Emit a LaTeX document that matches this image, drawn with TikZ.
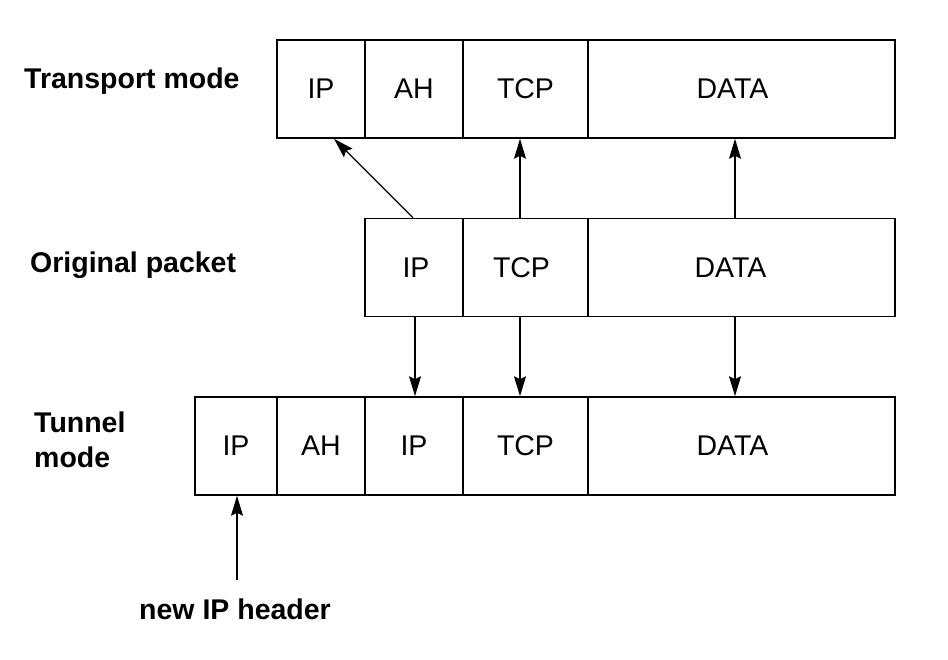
\documentclass[tikz,border=0pt]{standalone}
\usepackage{fontspec}
\setmainfont{Liberation Sans}
\usetikzlibrary{arrows.meta}
\begin{document}
\begin{tikzpicture}[x=1pt,y=-1pt,
  cell/.style={draw,line width=1.6pt,inner sep=0pt,minimum height=98pt,font=\fontsize{28.5}{30}\selectfont},
  lbl/.style={font=\bfseries\fontsize{28.5}{35}\selectfont,inner sep=0pt,align=left},
  arr/.style={line width=1.3pt,-{Stealth[length=20pt,width=12pt,inset=3pt]}}]
\useasboundingbox[fill=white] (0,0) rectangle (948,660);
% Transport mode
\node[cell,minimum width=88pt]  (t1) at (321,89) {IP};
\node[cell,minimum width=98pt]  (t2) at (414,89) {AH};
\node[cell,minimum width=125pt] (t3) at (525.5,89) {TCP};
\node[cell,minimum width=307pt] (t4) at (741.5,89) {\hbox{DATA\kern18pt}};
% Original packet
\node[cell,minimum width=98pt]  (o1) at (414,267.5) {\hbox{\kern4pt IP}};
\node[cell,minimum width=125pt] (o2) at (525.5,267.5) {\hbox{TCP\kern8pt}};
\node[cell,minimum width=307pt] (o3) at (741.5,267.5) {\hbox{DATA\kern22pt}};
% Tunnel mode
\node[cell,minimum width=82pt]  (n1) at (236,446) {IP};
\node[cell,minimum width=88pt]  (n2) at (321,446) {AH};
\node[cell,minimum width=98pt]  (n3) at (414,446) {IP};
\node[cell,minimum width=125pt] (n4) at (525.5,446) {TCP};
\node[cell,minimum width=307pt] (n5) at (741.5,446) {\hbox{DATA\kern18pt}};
% labels
\node[lbl,anchor=west] (lt) at (24,81) {Transport mode};
\node[lbl,anchor=west] (lo) at (30,265) {Original packet};
\node[lbl,anchor=west] (ln) at (34,440) {Tunnel\\mode};
\node[lbl] (lh) at (235,609) {new IP header};
\coordinate (hstart) at (237,580);
% arrows up
\draw[arr] ([xshift=-1pt]o1.north) -- ([xshift=13pt]t1.south);
\draw[arr] ([xshift=-5.5pt]o2.north) -- ([xshift=-5.5pt]t3.south);
\draw[arr] ([xshift=-6.5pt]o3.north) -- ([xshift=-6.5pt]t4.south);
% arrows down
\draw[arr] ([xshift=1pt]o1.south) -- ([xshift=1pt]n3.north);
\draw[arr] ([xshift=-5.5pt]o2.south) -- ([xshift=-5.5pt]n4.north);
\draw[arr] ([xshift=-6.5pt]o3.south) -- ([xshift=-6.5pt]n5.north);
% new IP header
\draw[arr] (hstart) -- ([xshift=1pt]n1.south);
\end{tikzpicture}
\end{document}
